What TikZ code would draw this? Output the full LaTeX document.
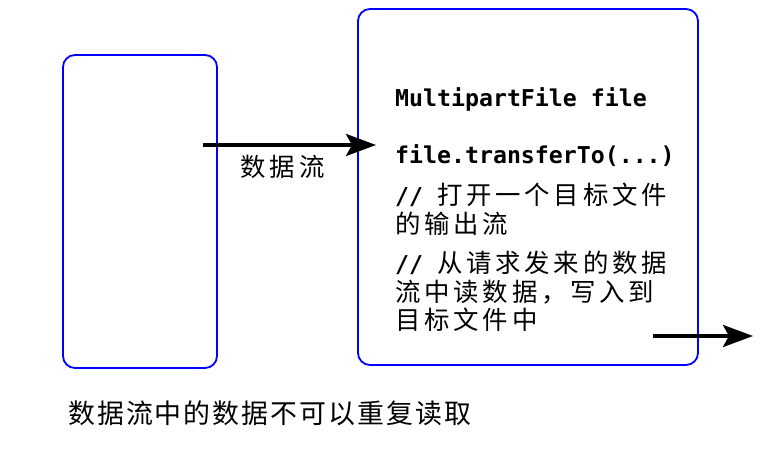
\documentclass[tikz,border=0pt]{standalone}
\usepackage{fontspec}
\setmonofont{DejaVu Sans Mono}
\newfontfamily\cjk{Noto Sans CJK SC}
\usetikzlibrary{arrows.meta}
\begin{document}
\begin{tikzpicture}[x=1bp,y=-1bp,
  box/.style={draw=blue,line width=1.8bp,rounded corners=12bp,inner sep=0pt},
  flow/.style={line width=3.6bp,-{Stealth[length=30bp,width=22bp,inset=6bp]}},
  code/.style={anchor=base west,inner sep=0pt,font=\fontsize{23.3}{26}\selectfont\ttfamily\bfseries},
  cn/.style={anchor=base west,inner sep=0pt,font=\fontsize{25.5}{28}\selectfont\cjk}]
\useasboundingbox (0,0) rectangle (782,463);
\node[box,minimum width=154bp,minimum height=313bp] (left) at (140,211.5) {};
\node[box,minimum width=340bp,minimum height=356bp] (right) at (528,187) {};
\coordinate (a1s) at (203,145);
\coordinate (a1e) at (376,145);
\draw[flow] (a1s) -- (a1e);
\node[cn] (lbl) at (240,177) {\addfontfeature{LetterSpace=17}数据流};
\coordinate (a2s) at (653,336);
\coordinate (a2e) at (753,336);
\draw[flow] (a2s) -- (a2e);
\node[code] (l1) at (395,107) {MultipartFile file};
\node[code] (l2) at (395,164) {file.transferTo(...)};
\node[cn] (l3) at (395,205) {{\fontsize{23.3}{26}\selectfont\ttfamily\bfseries//\ }\addfontfeature{LetterSpace=15}打开一个目标文件};
\node[cn] (l4) at (395,234) {\addfontfeature{LetterSpace=15}的输出流};
\node[cn] (l5) at (395,273) {{\fontsize{23.3}{26}\selectfont\ttfamily\bfseries//\ }\addfontfeature{LetterSpace=15}从请求发来的数据};
\node[cn] (l6) at (395,302) {\addfontfeature{LetterSpace=15}流中读数据，写入到};
\node[cn] (l7) at (395,330) {\addfontfeature{LetterSpace=15}目标文件中};
\node[cn,font=\fontsize{27}{30}\selectfont\cjk] (bottom) at (68,423) {\addfontfeature{LetterSpace=7.5}数据流中的数据不可以重复读取};
\end{tikzpicture}
\end{document}
